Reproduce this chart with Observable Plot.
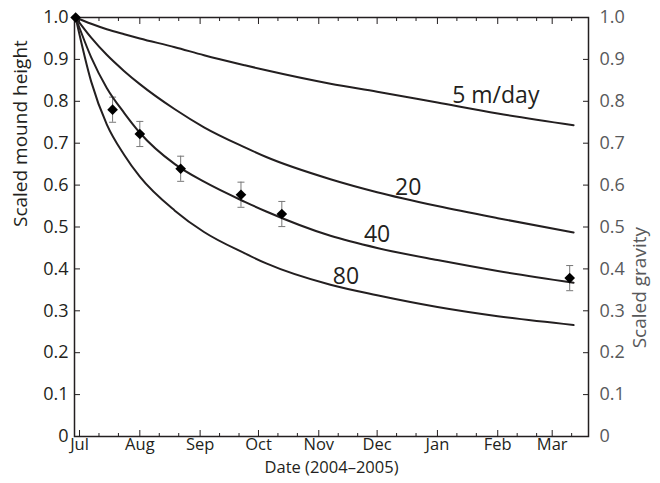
<!DOCTYPE html>
<html><head><meta charset="utf-8">
<script src="https://cdn.jsdelivr.net/npm/d3@7"></script>
<script src="https://cdn.jsdelivr.net/npm/@observablehq/plot@0.6"></script>
<style>body{margin:0;background:#fff} #chart{width:660px;height:483px}</style>
</head><body><div id="chart"></div>
<script>
// ---- data ----
const curveDates = ["2004-06-29","2004-07-07","2004-07-15","2004-07-24","2004-08-01","2004-08-19","2004-09-03","2004-09-24","2004-10-05","2004-11-07","2004-12-01","2005-01-01","2005-02-01","2005-03-12"];
const rate5  = [1.0,0.985,0.972,0.960,0.950,0.929,0.910,0.886,0.874,0.842,0.823,0.797,0.771,0.743];
const rate20 = [1.0,0.952,0.911,0.872,0.841,0.781,0.738,0.690,0.667,0.614,0.583,0.550,0.521,0.487];
const rate40 = [1.0,0.905,0.832,0.772,0.725,0.650,0.608,0.560,0.537,0.479,0.450,0.421,0.395,0.367];
const rate80 = [1.0,0.847,0.745,0.672,0.620,0.539,0.488,0.437,0.413,0.362,0.337,0.309,0.287,0.266];

const obsDates  = ["2004-06-29","2004-07-18","2004-08-01","2004-08-22","2004-09-22","2004-10-13","2005-03-10"];
const obsValues = [1.0,0.780,0.722,0.639,0.577,0.531,0.378];
const obsErrors = [0,0.03,0.03,0.03,0.03,0.03,0.03];

const labelNames  = ["5 m/day","20","40","80"];
const labelDates  = ["2005-01-31","2004-12-17","2004-12-01","2004-11-15"];
const labelValues = [0.813,0.594,0.482,0.382];

const monthTickDates = ["2004-07-01","2004-08-01","2004-09-01","2004-10-01","2004-11-01","2004-12-01","2005-01-01","2005-02-01","2005-03-01"];
const monthLabels = ["Jul","Aug","Sep","Oct","Nov","Dec","Jan","Feb","Mar"];
const minorTickDates = ["2004-07-11","2004-07-21","2004-08-11","2004-08-21","2004-09-11","2004-09-21","2004-10-11","2004-10-21","2004-11-11","2004-11-21","2004-12-11","2004-12-21","2005-01-11","2005-01-21","2005-02-11","2005-02-21","2005-03-11"];
const yTicks = [0,0.1,0.2,0.3,0.4,0.5,0.6,0.7,0.8,0.9,1.0];
const xDomain = ["2004-06-28T10:00Z","2005-03-19T16:00Z"];

// ---- build tables ----
const parse = d3.utcParse("%Y-%m-%d");
const series = [["5",rate5],["20",rate20],["40",rate40],["80",rate80]];
const curveRows = series.flatMap(([rate, vals]) => curveDates.map((d,i) => ({rate, date: parse(d), value: vals[i]})));
const obs = obsDates.map((d,i) => ({date: parse(d), value: obsValues[i], err: obsErrors[i]}));
const obsErr = obs.filter(d => d.err > 0);
const caps = obsErr.flatMap(d => [{date:d.date, value:d.value - d.err},{date:d.date, value:d.value + d.err}]);
const labels = labelNames.map((t,i) => ({text:t, date: parse(labelDates[i]), value: labelValues[i]}));
const majorTicks = monthTickDates.map(parse);
const minorTicks = minorTickDates.map(parse);

const capSymbol = {draw(ctx, size){ const r = Math.sqrt(size/Math.PI); ctx.moveTo(-r,0); ctx.lineTo(r,0); }};
const ink = "#231f20", grayInk = "#58595b";
const yfmt = d => d === 0 ? "0" : d.toFixed(1);

const chart = Plot.plot({
  width: 660, height: 483,
  marginTop: 17, marginBottom: 47, marginLeft: 74, marginRight: 72,
  x: {type: "utc", domain: xDomain.map(s => new Date(s))},
  y: {domain: [0, 1]},
  style: {fontFamily: "'Open Sans', sans-serif", background: "white", color: ink},
  marks: [
    // ticks (inward)
    Plot.axisX(majorTicks, {anchor: "bottom", tickSize: -6, fill: "none", stroke: ink, label: null}),
    Plot.axisX(minorTicks, {anchor: "bottom", tickSize: -3, fill: "none", stroke: ink, label: null}),
    Plot.axisX(majorTicks, {anchor: "top", tickSize: -6, fill: "none", stroke: ink, label: null}),
    Plot.axisX(minorTicks, {anchor: "top", tickSize: -3, fill: "none", stroke: ink, label: null}),
    Plot.axisY(yTicks, {anchor: "left", tickSize: -6, fill: "none", stroke: ink, label: null}),
    Plot.axisY(yTicks, {anchor: "right", tickSize: -6, fill: "none", stroke: ink, label: null}),
    // tick labels
    Plot.axisX(majorTicks, {anchor: "bottom", tickSize: 0, tickPadding: 2, fontSize: 16.5, fill: ink, label: null,
      tickFormat: d => monthLabels[majorTicks.findIndex(t => +t === +d)]}),
    Plot.axisY(yTicks, {anchor: "left", tickSize: 0, tickPadding: 6, fontSize: 18, fill: ink, label: null, tickFormat: yfmt}),
    Plot.axisY(yTicks, {anchor: "right", tickSize: 0, tickPadding: 11, fontSize: 18, fill: grayInk, label: null, tickFormat: yfmt}),
    // axis titles
    Plot.text(["Scaled mound height"], {frameAnchor: "left", rotate: -90, dx: -54, fontSize: 19, fill: ink, text: d => d}),
    Plot.text(["Scaled gravity"], {frameAnchor: "right", rotate: -90, dx: 51, fontSize: 19, fill: grayInk, text: d => d}),
    Plot.text(["Date (2004\u20132005)"], {frameAnchor: "bottom", dy: 36, fontSize: 16.5, fill: ink, text: d => d}),
    Plot.frame({stroke: ink, strokeWidth: 1.5}),
    // data
    Plot.ruleX(obsErr, {x: "date", y1: d => d.value - d.err, y2: d => d.value + d.err, stroke: "#777", strokeWidth: 1}),
    Plot.dot(caps, {x: "date", y: "value", symbol: capSymbol, r: 3.5, stroke: "#777", strokeWidth: 1, fill: "none"}),
    Plot.line(curveRows, {x: "date", y: "value", z: "rate", stroke: ink, strokeWidth: 2, curve: "monotone-x"}),
    Plot.dot(obs, {x: "date", y: "value", symbol: "diamond2", r: 4.8, fill: "#000", stroke: "none"}),
    Plot.text(labels, {x: "date", y: "value", text: "text", fontSize: 23, fill: ink})
  ]
});
document.getElementById("chart").appendChild(chart);
</script>
</body></html>
